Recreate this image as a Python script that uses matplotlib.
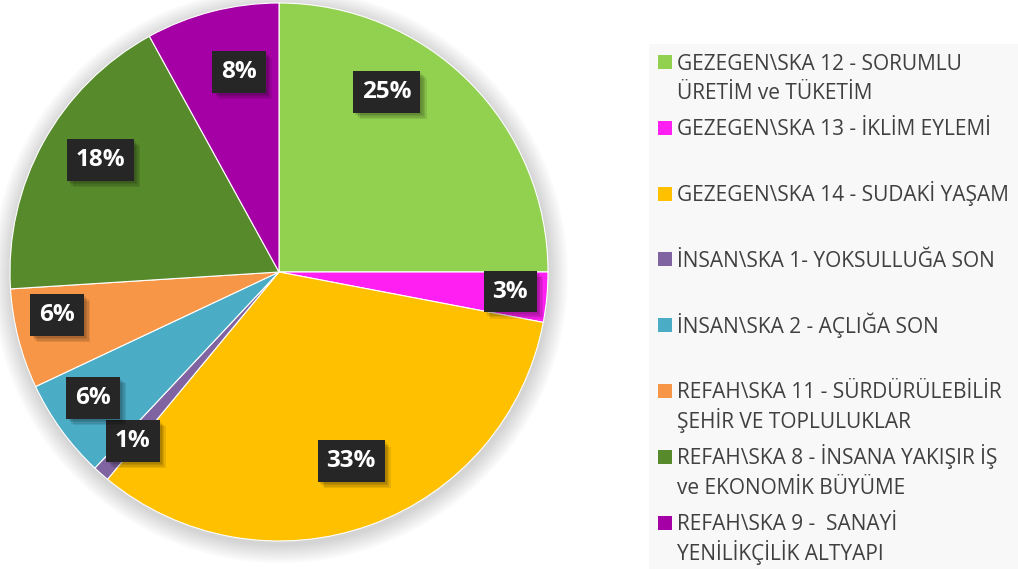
import matplotlib.pyplot as plt
import matplotlib.patheffects as pe
from matplotlib.patches import Circle, Rectangle

plt.rcParams['font.family'] = ['Open Sans', 'DejaVu Sans']

# share of projects per goal (percent)
shares = [25, 3, 33, 1, 6, 6, 18, 8]
colors = ['#92D050', '#FF1FF2', '#FFC000', '#8064A2',
          '#4BACC6', '#F79646', '#578A2B', '#A500A5']
legend_lines = [
    ['GEZEGEN\\SKA 12 - SORUMLU', 'ÜRETİM ve TÜKETİM'],
    ['GEZEGEN\\SKA 13 - İKLİM EYLEMİ'],
    ['GEZEGEN\\SKA 14 - SUDAKİ YAŞAM'],
    ['İNSAN\\SKA 1- YOKSULLUĞA SON'],
    ['İNSAN\\SKA 2 - AÇLIĞA SON'],
    ['REFAH\\SKA 11 - SÜRDÜRÜLEBİLİR', 'ŞEHİR VE TOPLULUKLAR'],
    ['REFAH\\SKA 8 - İNSANA YAKIŞIR İŞ', 've EKONOMİK BÜYÜME'],
    ['REFAH\\SKA 9 -  SANAYİ', 'YENİLİKÇİLİK ALTYAPI'],
]
# where each percentage box sits, in pie units
label_xy = [(0.401, 0.669), (0.860, -0.073), (0.268, -0.703), (-0.543, -0.628),
            (-0.691, -0.468), (-0.825, -0.160), (-0.665, 0.416), (-0.149, 0.743)]

W, H = 1018, 569
fig = plt.figure(figsize=(W / 100, H / 100), dpi=100)
fig.patch.set_facecolor('white')

# pie axes: centre (279, 272) px, radius 269 px
cx, cy, R, k = 279, 272, 269, 1.12
side = 2 * R * k
ax = fig.add_axes([(cx - side / 2) / W, (H - cy - side / 2) / H, side / W, side / H])
ax.set_xlim(-k, k)
ax.set_ylim(-k, k)
ax.set_aspect('equal')
ax.axis('off')

# soft glow behind the pie
for i in range(14):
    ax.add_patch(Circle((0.004, -0.012), 1.0 + 0.005 * (i + 1), color='#7f7f7f',
                        alpha=0.024, lw=0, zorder=0))

ax.pie(shares, colors=colors, startangle=90, counterclock=False, radius=1.0,
       wedgeprops=dict(edgecolor='white', linewidth=0.8), frame=False)
ax.set_xlim(-k, k)
ax.set_ylim(-k, k)

# blurred-looking drop shadow: a few stacked, faint offsets
shadow = [pe.SimplePatchShadow(offset=(d, -d), shadow_rgbFace='#000000', alpha=0.09)
          for d in (1.5, 2.5, 3.5, 4.5)]
for val, (x, y) in zip(shares, label_xy):
    t = ax.text(x, y, f'{val}%', ha='center', va='center', color='white',
                fontsize=17.5, fontweight='bold', zorder=5,
                bbox=dict(boxstyle='square,pad=0.36', fc='#262626', ec='none'))
    t.get_bbox_patch().set_path_effects(shadow + [pe.Normal()])

# legend panel
lx0, ly0 = 649, 44
lax = fig.add_axes([lx0 / W, 0, (W - lx0) / W, (H - ly0) / H])
lax.set_xlim(lx0, W)
lax.set_ylim(H, ly0)
lax.axis('off')
lax.add_patch(Rectangle((lx0, ly0), W - lx0, H - ly0, fc='#F8F8F8', ec='none'))

first_y, step, line_gap = 62, 65.8, 29.5
for i, (lines, c) in enumerate(zip(legend_lines, colors)):
    yc = first_y + i * step
    lax.add_patch(Rectangle((658, yc - 7), 14, 14, fc=c, ec='none'))
    for j, line in enumerate(lines):
        lax.text(677, yc + 7.5 + j * line_gap, line, ha='left', va='baseline',
                 fontsize=15, color='#404040')

fig.savefig('out.png', dpi=100, facecolor='white')
